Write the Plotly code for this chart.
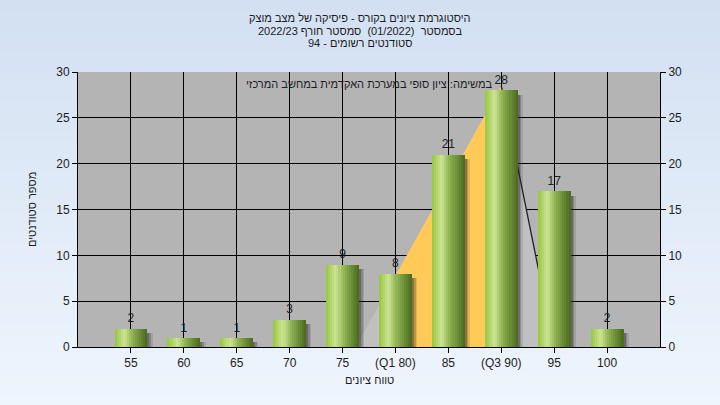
import plotly.graph_objects as go

# ---- data ----
categories = ["55", "60", "65", "70", "75", "(Q1 80)", "85", "(Q3 90)", "95", "100"]
counts = [2, 1, 1, 3, 9, 8, 21, 28, 17, 2]
positions = list(range(len(categories)))

# background distribution triangle (category-index units, count units)
curve_x = [4.25, 7.0, 8.0]
curve_y = [0.0, 28.5, 0.0]
q1_index = 5
q3_index = 7

title_lines = [
    "היסטוגרמת ציונים בקורס - פיסיקה של מצב מוצק",
    "בסמסטר  (01/2022)  סמסטר חורף 2022/23",
    "סטודנטים רשומים - 94",
]
note_text = "במשימה: ציון סופי במערכת האקדמית במחשב המרכזי"
x_title = "טווח ציונים"
y_title = "מספר סטודנטים"
y_ticks = [0, 5, 10, 15, 20, 25, 30]

FONT = "Liberation Sans, Arial, sans-serif"
TXT = "#1c1c24"

L, R, T, B = 78, 60, 72, 58
PW, PH = 720 - L - R, 405 - T - B


def py(ypx):
    return (405 - B - ypx) / PH


def lerp(c1, c2, t):
    return tuple(round(a + (b - a) * t) for a, b in zip(c1, c2))


def grad(t):
    stops = [(0.0, (150, 198, 62)), (0.3, (204, 228, 148)), (0.55, (140, 176, 80)), (1.0, (74, 104, 30))]
    for (t0, c0), (t1, c1) in zip(stops, stops[1:]):
        if t <= t1:
            return "rgb(%d,%d,%d)" % lerp(c0, c1, (t - t0) / (t1 - t0))
    return "rgb(%d,%d,%d)" % stops[-1][1]


fig = go.Figure()

BW = 0.62
# shadows
for k, (dx, a) in enumerate([(0.10, 0.13), (0.07, 0.22), (0.04, 0.32)]):
    fig.add_trace(go.Bar(
        x=positions, y=[max(v - 0.5, 0) for v in counts], width=BW, offset=-BW / 2 + dx,
        marker=dict(color="rgba(40,40,40,%.2f)" % a, line=dict(width=0)),
        hoverinfo="skip", showlegend=False))

# gradient bars (cylinder look)
N = 16
for k in range(N):
    t = (k + 0.5) / N
    fig.add_trace(go.Bar(
        x=positions, y=counts, width=BW / N + 0.003, offset=-BW / 2 + k * BW / N,
        marker=dict(color=grad(t), line=dict(width=0)),
        hoverinfo="skip", showlegend=False))

# value labels (on a hidden axis lifted slightly so labels sit just above the bars)
fig.add_trace(go.Scatter(
    x=positions, y=counts, mode="text", text=[str(v) for v in counts],
    textposition="top center", textfont=dict(family=FONT, size=12, color=TXT),
    yaxis="y3", hoverinfo="skip", showlegend=False))
# right-axis companion
fig.add_trace(go.Scatter(x=positions, y=counts, mode="markers", marker=dict(opacity=0),
                         yaxis="y2", hoverinfo="skip", showlegend=False))

shapes = []
# page background gradient
top_c, bot_c = (211, 224, 242), (238, 245, 253)
nb = 40
y_lo, y_hi = -B / PH, 1 + T / PH
for i in range(nb):
    c = lerp(top_c, bot_c, i / (nb - 1))
    y1 = y_hi - (y_hi - y_lo) * i / nb
    y0 = y_hi - (y_hi - y_lo) * (i + 1) / nb - 0.005
    shapes.append(dict(type="rect", xref="paper", yref="paper", x0=-0.2, x1=1.2, y0=y0, y1=y1,
                       fillcolor="rgb(%d,%d,%d)" % c, line=dict(width=0), layer="below"))
shapes.append(dict(type="rect", xref="paper", yref="paper", x0=0, x1=1, y0=0, y1=1,
                   fillcolor="#B4B4B4", line=dict(width=0), layer="below"))

# triangle
path = "M %f,%f L %f,%f L %f,%f Z" % (curve_x[0], curve_y[0], curve_x[1], curve_y[1], curve_x[2], curve_y[2])
shapes.append(dict(type="path", xref="x", yref="y", path=path, fillcolor="#C0C0C0",
                   line=dict(width=0), layer="between"))
slope = (curve_y[1] - curve_y[0]) / (curve_x[1] - curve_x[0])
yq1 = curve_y[0] + slope * (q1_index - curve_x[0])
yq3 = curve_y[0] + slope * (q3_index - curve_x[0])
opath = "M %f,0 L %f,%f L %f,%f L %f,0 Z" % (q1_index, q1_index, yq1, q3_index, yq3, q3_index)
shapes.append(dict(type="path", xref="x", yref="y", path=opath, fillcolor="#FFCA58",
                   line=dict(width=0), layer="between"))
shapes.append(dict(type="line", xref="x", yref="y", x0=curve_x[1], y0=curve_y[1], x1=curve_x[2], y1=curve_y[2],
                   line=dict(color="#202020", width=1.3), layer="between"))

annotations = []
for line, ypx in zip(title_lines, [18, 30.5, 43]):
    annotations.append(dict(text=line, xref="paper", yref="paper", x=(360 - L) / PW, y=py(ypx),
                            xanchor="center", yanchor="middle", showarrow=False,
                            font=dict(family=FONT, size=11, color=TXT)))
annotations.append(dict(text=note_text, xref="paper", yref="paper", x=(369 - L) / PW, y=py(84), xanchor="center",
                        yanchor="middle", showarrow=False, font=dict(family=FONT, size=11, color=TXT)))
annotations.append(dict(text=x_title, xref="paper", yref="paper", x=(369 - L) / PW, y=py(380), xanchor="center",
                        yanchor="middle", showarrow=False, font=dict(family=FONT, size=11, color=TXT)))
annotations.append(dict(text=y_title, xref="paper", yref="paper", x=(32 - L) / PW, y=py(210), xanchor="center",
                        yanchor="middle", showarrow=False, textangle=-90,
                        font=dict(family=FONT, size=11, color=TXT)))

axis_common = dict(showline=True, linecolor="black", linewidth=1, ticks="outside", ticklen=5,
                   tickcolor="black", tickfont=dict(family=FONT, size=12, color=TXT),
                   zeroline=False, fixedrange=True, automargin=False)

fig.update_layout(
    width=720, height=405,
    margin=dict(l=L, r=R, t=T, b=B, autoexpand=False),
    paper_bgcolor="#E2ECF8", plot_bgcolor="#B4B4B4",
    barmode="overlay", bargap=0,
    shapes=shapes,
    annotations=annotations,
    xaxis=dict(range=[-1, 10], tickvals=positions, ticktext=categories,
               showgrid=True, gridcolor="black", gridwidth=1, **axis_common),
    yaxis=dict(range=[0, 30], tickvals=y_ticks,
               showgrid=True, gridcolor="black", gridwidth=1, **axis_common),
    yaxis2=dict(range=[0, 30], tickvals=y_ticks, overlaying="y", side="right", anchor="x",
                showgrid=False, **axis_common),
    yaxis3=dict(range=[-0.35, 29.65], overlaying="y", visible=False, fixedrange=True),
    showlegend=False,
)

fig.write_html("out.html", config={"displayModeBar": False, "staticPlot": True},
               post_script="document.body.style.margin='0';")
